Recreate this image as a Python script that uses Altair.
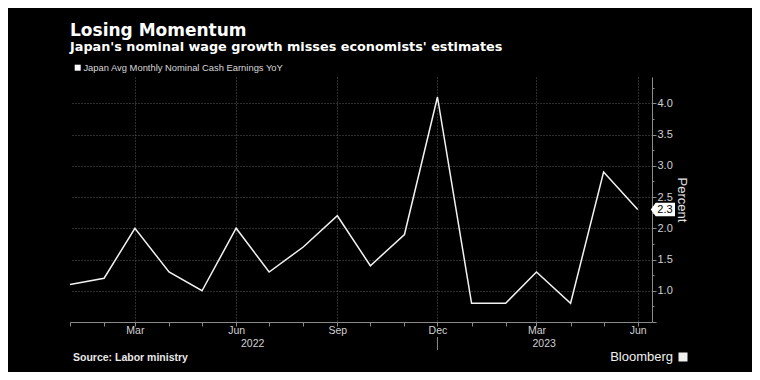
import altair as alt
import pandas as pd

# ---- data ----
months = ["2022-01-01", "2022-02-01", "2022-03-01", "2022-04-01", "2022-05-01", "2022-06-01",
          "2022-07-01", "2022-08-01", "2022-09-01", "2022-10-01", "2022-11-01", "2022-12-01",
          "2023-01-01", "2023-02-01", "2023-03-01", "2023-04-01", "2023-05-01", "2023-06-01"]
values = [1.1, 1.2, 2.0, 1.3, 1.0, 2.0, 1.3, 1.7, 2.2, 1.4, 1.9, 4.1,
          0.8, 0.8, 1.3, 0.8, 2.9, 2.3]
series_name = "Japan Avg Monthly Nominal Cash Earnings YoY"
year_labels = ["2022", "2023"]
year_label_dates = ["2022-06-16", "2023-03-08"]
separator_dates = ["2022-12-01"]
y_tick_values = [0.5, 0.75, 1.0, 1.25, 1.5, 1.75, 2.0, 2.25, 2.5, 2.75, 3.0, 3.25,
                 3.5, 3.75, 4.0, 4.25]
title_text = "Losing Momentum"
subtitle_text = "Japan's nominal wage growth misses economists' estimates"
source_text = "Source: Labor ministry"
brand_text = "Bloomberg"

FONT = "Liberation Sans"
TFONT = "DejaVu Sans"
W, H = 582, 245

df = pd.DataFrame({"date": months, "value": values, "series": series_name})
df_last = df.tail(1).copy()
df_last["label"] = [f"{v:.1f}" for v in df_last["value"]]
df_years = pd.DataFrame({"date": year_label_dates, "label": year_labels})
df_sep = pd.DataFrame({"date": separator_dates})

x_values = [alt.DateTime(year=int(m[:4]), month=int(m[5:7]), date=1) for m in months]
x_scale = alt.Scale(domain=[alt.DateTime(year=2022, month=1, date=1),
                            alt.DateTime(year=2023, month=6, date=14)])
y_scale = alt.Scale(domain=[0.5, 4.42], nice=False, zero=False)

quarter_test = "month(datum.value) % 3 == 2"
major_y_test = "datum.value >= 1 && datum.value % 0.5 == 0"

x_axis = alt.Axis(
    values=x_values,
    labelExpr=f"({quarter_test}) ? timeFormat(datum.value, '%b') : ''",
    labelOverlap=False, labelFlush=False,
    tickSize=4, tickColor="#8a8a8a", domainColor="#8a8a8a",
    labelColor="#d0d0d0", labelFontSize=10.5, labelFont=FONT, labelPadding=-1,
    grid=True, gridColor="#5a5a5a", gridDash=[1, 2],
    gridOpacity={"condition": {"test": quarter_test, "value": 1}, "value": 0},
    title=None,
)
y_axis = alt.Axis(
    orient="right",
    values=y_tick_values,
    labelExpr=f"({major_y_test}) ? format(datum.value, '.1f') : ''",
    labelOverlap=False, labelFlush=False,
    tickSize={"condition": {"test": "datum.value % 0.5 == 0", "value": 4}, "value": 2},
    tickColor="#8a8a8a", domainColor="#8a8a8a",
    labelColor="#d0d0d0", labelFontSize=11, labelFont=FONT, labelPadding=1,
    grid=True, gridColor="#5a5a5a", gridDash=[1, 2],
    gridOpacity={"condition": {"test": major_y_test, "value": 1}, "value": 0},
    title="Percent", titleAngle=90, titleColor="#e0e0e0", titleFontSize=13,
    titleFont=FONT, titleFontWeight="normal", titlePadding=2,
)

X = alt.X("date:T", scale=x_scale, axis=x_axis)
Y = alt.Y("value:Q", scale=y_scale, axis=y_axis)

line = alt.Chart(df).mark_line(strokeWidth=1.5).encode(
    x=X, y=Y,
    color=alt.Color("series:N", scale=alt.Scale(range=["#f2f2f2"]),
                    legend=alt.Legend(orient="none", legendX=3, legendY=-14,
                                      title=None, symbolType="square", symbolSize=36,
                                      symbolFillColor="#ffffff", symbolStrokeWidth=0,
                                      labelFont=FONT, labelFontSize=9.4, labelLimit=500,
                                      labelColor="#d8d8d8", labelOffset=1, padding=0)),
)

pointer = alt.Chart(df_last).mark_point(
    shape="M-1,0 L-0.62,-0.52 L1,-0.52 L1,0.52 L-0.62,0.52 Z",
    size=484, filled=True, fill="#ffffff", stroke="#ffffff", opacity=1,
).encode(x=alt.value(W + 11), y=Y)

pointer_text = alt.Chart(df_last).mark_text(
    font=FONT, fontSize=11, color="#000000", align="center", baseline="middle", dx=1,
).encode(x=alt.value(W + 12), y=Y, text="label:N")

years = alt.Chart(df_years).mark_text(
    font=FONT, fontSize=10.5, color="#d0d0d0", align="center", baseline="middle",
).encode(x=X, y=alt.value(H + 22), text="label:N")

sep = alt.Chart(df_sep).mark_rule(color="#8a8a8a", strokeWidth=1).encode(
    x=X, y=alt.value(H + 15), y2=alt.value(H + 28))

source = alt.Chart(pd.DataFrame({"t": [source_text]})).mark_text(
    font=FONT, fontSize=10.5, fontWeight="bold", color="#e8e8e8", align="left", baseline="middle",
).encode(x=alt.value(3), y=alt.value(H + 36), text="t:N")

brand = alt.Chart(pd.DataFrame({"t": [brand_text]})).mark_text(
    font=FONT, fontSize=13, color="#f0f0f0", align="right", baseline="middle",
).encode(x=alt.value(W + 21), y=alt.value(H + 35), text="t:N")

logo = alt.Chart(pd.DataFrame({"t": [brand_text]})).mark_point(
    shape="square", size=81, filled=True, color="#f0f0f0", opacity=1,
).encode(x=alt.value(W + 31), y=alt.value(H + 35))

chart = alt.layer(line, years, sep, pointer, pointer_text, source, brand, logo).properties(
    width=W, height=H,
    autosize=alt.AutoSizeParams(type="none"),
    padding={"left": 62, "top": 69, "right": 744 - 62 - W, "bottom": 364 - 69 - H},
    title=alt.TitleParams(
        title_text, subtitle=subtitle_text, anchor="start", frame="group",
        font=TFONT, fontSize=17, fontWeight="bold", color="#ffffff",
        subtitleFont=TFONT, subtitleFontSize=12.8, subtitleFontWeight="bold",
        subtitleColor="#ffffff", subtitlePadding=1, offset=8,
    ),
).configure(background="#000000").configure_view(stroke=None)

chart.save("out.html", embed_options={"renderer": "svg", "actions": False})
